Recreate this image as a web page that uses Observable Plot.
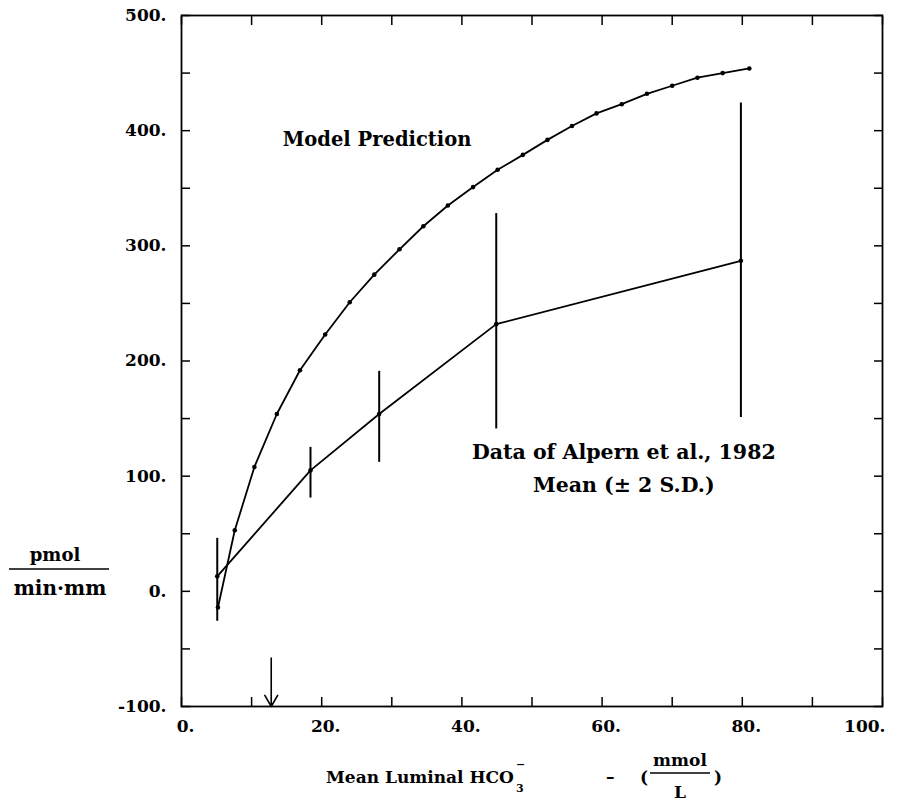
<!DOCTYPE html>
<html>
<head>
<meta charset="utf-8">
<script src="https://cdn.jsdelivr.net/npm/d3@7"></script>
<script src="https://cdn.jsdelivr.net/npm/@observablehq/plot@0.6"></script>
<style>
  html, body { margin: 0; padding: 0; background: #fff; }
  #chart svg { display: block; }
</style>
</head>
<body>
<div id="chart"></div>
<script>
// ---- Data ----
// Model prediction curve (mmol/L, pmol/min·mm)
const modelX = [5.2, 7.6, 10.4, 13.6, 16.9, 20.5, 24.0, 27.5, 31.1, 34.5, 38.0, 41.6, 45.1, 48.7, 52.2, 55.7, 59.2, 62.8, 66.4, 70.0, 73.6, 77.2, 81.0];
const modelY = [-14, 53, 108, 154, 192, 223, 251, 275, 297, 317, 335, 351, 366, 379, 392, 404, 415, 423, 432, 439, 446, 450, 454];

// Data of Alpern et al., 1982: mean and ±2 S.D.
const dataX    = [5.1, 18.4, 28.2, 44.9, 79.8];
const dataMean = [13, 105, 154, 232, 287];
const dataLow  = [-26, 81, 112, 141, 151];
const dataHigh = [46, 125, 191, 328, 424];

// Arrow on the x axis
const arrowX = [12.8];
const arrowTop = [-58];

// Axes
const xDomain = [0, 100];
const yDomain = [-100, 500];
const xTickLabels = [0, 20, 40, 60, 80, 100];
const xMinorTicks = [0, 10, 20, 30, 40, 50, 60, 70, 80, 90, 100];
const yTickLabels = [-100, 0, 100, 200, 300, 400, 500];
const yMinorTicks = [-100, -50, 0, 50, 100, 150, 200, 250, 300, 350, 400, 450, 500];

// Annotations
const labelModel = "Model Prediction";
const labelData1 = "Data of Alpern et al., 1982";
const labelData2 = "Mean (± 2 S.D.)";

const model = modelX.map((x, i) => ({x, y: modelY[i]}));
const data = dataX.map((x, i) => ({x, y: dataMean[i], lo: dataLow[i], hi: dataHigh[i]}));
const arrows = arrowX.map((x, i) => ({x, top: arrowTop[i]}));

const FONT = "DejaVu Serif, serif";
const fmt = d => d + ".";

// custom mark for axis titles (stacked fractions)
function axisTitles() {
  const g = d3.create("svg:g")
    .attr("font-family", FONT)
    .attr("font-weight", "bold")
    .attr("fill", "black");
  // y-axis title: pmol / min·mm
  g.append("text").attr("x", 55).attr("y", 561).attr("text-anchor", "middle").attr("font-size", 18).text("pmol");
  g.append("line").attr("x1", 9).attr("x2", 109).attr("y1", 569).attr("y2", 569).attr("stroke", "black").attr("stroke-width", 1.3);
  g.append("text").attr("x", 60).attr("y", 595).attr("text-anchor", "middle").attr("font-size", 20).text("min·mm");
  // x-axis title
  const xl = g.append("g").attr("font-size", 17).attr("text-anchor", "start");
  xl.append("text").attr("class", "xt-main").attr("x", 326).attr("y", 783).text("Mean Luminal HCO");
  const ion = xl.append("text").attr("class", "xt-ion").attr("x", 518).attr("y", 792).attr("font-size", 11);
  ion.append("tspan").text("3");
  ion.append("tspan").attr("x", 518).attr("dy", -24).text("−");
  xl.append("text").attr("x", 606).attr("y", 783).text("–");
  xl.append("text").attr("x", 640).attr("y", 783).text("(");
  xl.append("text").attr("x", 680).attr("y", 766).attr("text-anchor", "middle").text("mmol");
  xl.append("line").attr("x1", 650).attr("x2", 710).attr("y1", 773).attr("y2", 773).attr("stroke", "black").attr("stroke-width", 1.3);
  xl.append("text").attr("x", 680).attr("y", 798).attr("text-anchor", "middle").text("L");
  xl.append("text").attr("x", 714).attr("y", 783).text(")");
  return g.node();
}

const chart = Plot.plot({
  width: 906,
  height: 803,
  marginLeft: 181,
  marginRight: 24,
  marginTop: 15,
  marginBottom: 97,
  style: {fontFamily: FONT, background: "white", color: "black"},
  x: {domain: xDomain, axis: null},
  y: {domain: yDomain, axis: null},
  marks: [
    Plot.frame({stroke: "black", strokeWidth: 1.8}),
    // inward ticks on all four sides
    Plot.axisX(xMinorTicks, {anchor: "bottom", tickSize: -9, tickFormat: () => "", label: null, strokeWidth: 1.5}),
    Plot.axisX(xMinorTicks, {anchor: "top", tickSize: -9, tickFormat: () => "", label: null, strokeWidth: 1.5}),
    Plot.axisY(yMinorTicks, {anchor: "left", tickSize: -9, tickFormat: () => "", label: null, strokeWidth: 1.5}),
    Plot.axisY(yMinorTicks, {anchor: "right", tickSize: -9, tickFormat: () => "", label: null, strokeWidth: 1.5}),
    // tick labels
    Plot.text(yTickLabels, {x: xDomain[0], y: d => d, text: fmt, textAnchor: "end", dx: -15, fontSize: 17, fontWeight: "bold"}),
    Plot.text(xTickLabels.filter(d => d < 100), {x: d => d, y: yDomain[0], text: fmt, dy: 20, dx: 4, fontSize: 17, fontWeight: "bold"}),
    Plot.text(xTickLabels.filter(d => d >= 100), {x: d => d, y: yDomain[0], text: fmt, dy: 20, dx: 3, textAnchor: "end", fontSize: 17, fontWeight: "bold"}),
    // model prediction
    Plot.line(model, {x: "x", y: "y", stroke: "black", strokeWidth: 1.8}),
    Plot.dot(model, {x: "x", y: "y", r: 2.3, fill: "black"}),
    // data with ±2 SD
    Plot.ruleX(data, {x: "x", y1: "lo", y2: "hi", stroke: "black", strokeWidth: 2}),
    Plot.line(data, {x: "x", y: "y", stroke: "black", strokeWidth: 1.8}),
    Plot.dot(data, {x: "x", y: "y", r: 2.3, fill: "black"}),
    // arrow
    Plot.arrow(arrows, {x1: "x", x2: "x", y1: "top", y2: () => yDomain[0], stroke: "black", strokeWidth: 1.6, headLength: 12, headAngle: 60}),
    // annotations
    Plot.text([labelModel], {x: 27.9, y: 392, text: d => d, fontSize: 19.5, fontWeight: "bold"}),
    Plot.text([labelData1], {x: 63.1, y: 121, text: d => d, fontSize: 20.5, fontWeight: "bold"}),
    Plot.text([labelData2], {x: 63.1, y: 92, text: d => d, fontSize: 20.5, fontWeight: "bold"}),
    axisTitles
  ]
});
document.getElementById("chart").appendChild(chart);

// place the HCO3⁻ sub/superscript right after the measured main text
const mainT = chart.querySelector(".xt-main");
const ionT = chart.querySelector(".xt-ion");
if (mainT && ionT) {
  const bb = mainT.getBBox();
  const xIon = bb.x + bb.width + 2;
  ionT.setAttribute("x", xIon);
  ionT.querySelectorAll("tspan").forEach(t => { if (t.hasAttribute("x")) t.setAttribute("x", xIon); });
}
</script>
</body>
</html>
